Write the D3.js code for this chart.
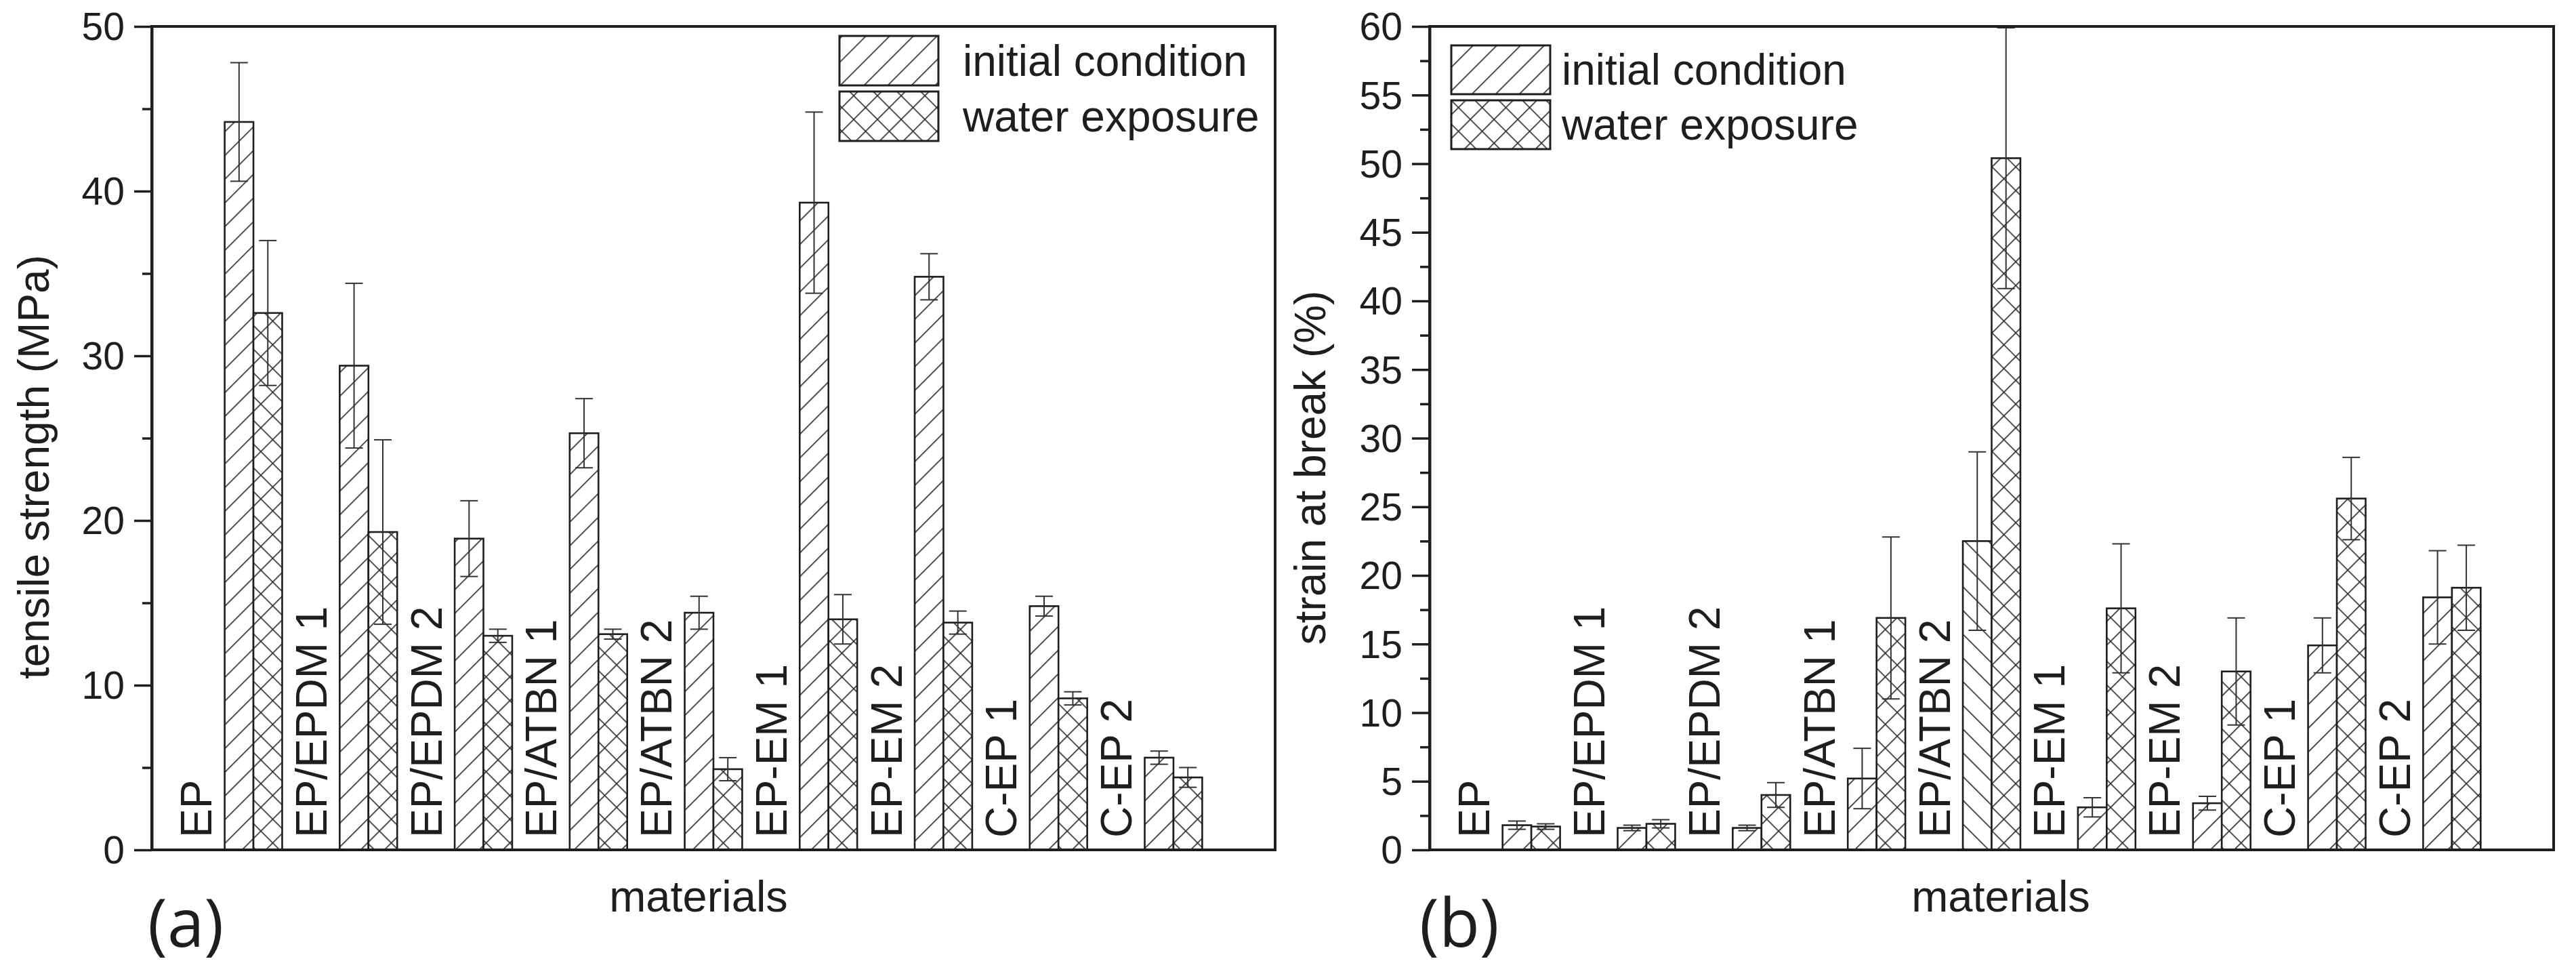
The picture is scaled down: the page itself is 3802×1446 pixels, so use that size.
<!DOCTYPE html>
<html>
<head>
<meta charset="utf-8">
<script src="https://cdn.jsdelivr.net/npm/d3@7"></script>
<style>
  html, body { margin: 0; padding: 0; background: #ffffff; }
  svg { display: block; }
  text { fill: #1e1e1e; }
</style>
</head>
<body>
<div id="chart"></div>
<script>
// ---------------- data ----------------
const categories = ["EP", "EP/EPDM 1", "EP/EPDM 2", "EP/ATBN 1", "EP/ATBN 2", "EP-EM 1", "EP-EM 2", "C-EP 1", "C-EP 2"];
const seriesNames = ["initial condition", "water exposure"];

const tensileInitial    = [44.2, 29.4, 18.9, 25.3, 14.4, 39.3, 34.8, 14.8, 5.6];
const tensileInitialErr = [3.6, 5.0, 2.3, 2.1, 1.0, 5.5, 1.4, 0.6, 0.4];
const tensileWater      = [32.6, 19.3, 13.0, 13.1, 4.9, 14.0, 13.8, 9.2, 4.4];
const tensileWaterErr   = [4.4, 5.6, 0.4, 0.3, 0.7, 1.5, 0.7, 0.4, 0.6];

const strainInitial     = [1.8, 1.6, 1.6, 5.2, 22.5, 3.1, 3.4, 14.9, 18.4];
const strainInitialErr  = [0.3, 0.2, 0.2, 2.2, 6.5, 0.7, 0.5, 2.0, 3.4];
const strainWater       = [1.7, 1.9, 4.0, 16.9, 50.4, 17.6, 13.0, 25.6, 19.1];
const strainWaterErr    = [0.2, 0.3, 0.9, 5.9, 9.5, 4.7, 3.9, 3.0, 3.1];
// bars drawn with the reversed ("\") hatch in panel (b)
const strainReversedHatch = ["EP/ATBN 2"];

const tensileMajorTicks = [0, 10, 20, 30, 40, 50];
const tensileMinorTicks = [5, 15, 25, 35, 45];
const strainMajorTicks  = [0, 5, 10, 15, 20, 25, 30, 35, 40, 45, 50, 55, 60];
const strainMinorTicks  = [2.5, 7.5, 12.5, 17.5, 22.5, 27.5, 32.5, 37.5, 42.5, 47.5, 52.5, 57.5];

const yTitles = ["tensile strength (MPa)", "strain at break (%)"];
const xTitle = "materials";
const panelTags = ["(a)", "(b)"];

// ---------------- layout ----------------
const W = 3802, H = 1446;
const FONT = "'Liberation Sans', Arial, Helvetica, sans-serif";
const INK = "#1e1e1e";

const svg = d3.select("#chart").append("svg")
  .attr("width", W).attr("height", H)
  .attr("viewBox", `0 0 ${W} ${H}`);
svg.append("rect").attr("width", W).attr("height", H).attr("fill", "#fff");

// hatch patterns
const defs = svg.append("defs");
const sp = 24.75;
function hatch(id, angle, cross) {
  const p = defs.append("pattern")
    .attr("id", id).attr("patternUnits", "userSpaceOnUse")
    .attr("width", sp).attr("height", sp)
    .attr("patternTransform", `rotate(${angle})`);
  p.append("rect").attr("width", sp).attr("height", sp).attr("fill", "#fff");
  p.append("line").attr("x1", 0).attr("y1", -2).attr("x2", 0).attr("y2", sp + 2)
    .attr("stroke", "#2a2a2a").attr("stroke-width", 3.2);
  if (cross) {
    p.append("line").attr("x1", -2).attr("y1", 0).attr("x2", sp + 2).attr("y2", 0)
      .attr("stroke", "#2a2a2a").attr("stroke-width", 3.2);
  }
}
hatch("fwd", 45, false);
hatch("back", -45, false);
hatch("cross", 45, true);

const plotTop = 39, plotBottom = 1254;

const panels = [
  {
    x0: 224, x1: 1882, max: 50,
    init: tensileInitial, initErr: tensileInitialErr,
    water: tensileWater, waterErr: tensileWaterErr,
    major: tensileMajorTicks, minor: tensileMinorTicks,
    title: yTitles[0], titleX: 72, titleY: 689,
    xTitleX: 1031, tag: panelTags[0], tagX: 218,
    legend: { x: 1239, y: 53, w: 146, h: 73, gap: 9, textX: 1421 },
    reversed: []
  },
  {
    x0: 2110, x1: 3769, max: 60,
    init: strainInitial, initErr: strainInitialErr,
    water: strainWater, waterErr: strainWaterErr,
    major: strainMajorTicks, minor: strainMinorTicks,
    title: yTitles[1], titleX: 1956, titleY: 690,
    xTitleX: 2953, tag: panelTags[1], tagX: 2095,
    legend: { x: 2142, y: 67, w: 146, h: 72, gap: 9, textX: 2305 },
    reversed: strainReversedHatch
  }
];

panels.forEach(P => {
  const g = svg.append("g");
  const x = d3.scaleBand().domain(categories)
    .range([P.x0, P.x1]).paddingInner(0).paddingOuter(0.384);
  const step = x.step();
  const center = c => x(c) + x.bandwidth() / 2;
  const bw = step * 0.25;
  const y = d3.scaleLinear().domain([0, P.max]).range([plotBottom, plotTop]);

  const rows = categories.map((c, i) => ({
    c, i,
    init: P.init[i], initErr: P.initErr[i],
    water: P.water[i], waterErr: P.waterErr[i]
  }));

  // bars
  const barG = g.append("g");
  barG.selectAll("rect.init").data(rows).join("rect")
    .attr("class", "init")
    .attr("x", d => center(d.c) - bw).attr("width", bw)
    .attr("y", d => y(d.init)).attr("height", d => y(0) - y(d.init))
    .attr("fill", d => P.reversed.includes(d.c) ? "url(#back)" : "url(#fwd)")
    .attr("stroke", INK).attr("stroke-width", 2.6);
  barG.selectAll("rect.water").data(rows).join("rect")
    .attr("class", "water")
    .attr("x", d => center(d.c)).attr("width", bw)
    .attr("y", d => y(d.water)).attr("height", d => y(0) - y(d.water))
    .attr("fill", "url(#cross)")
    .attr("stroke", INK).attr("stroke-width", 2.6);

  // error bars
  const errs = [];
  rows.forEach(d => {
    errs.push({ cx: center(d.c) - bw / 2, v: d.init, e: d.initErr });
    errs.push({ cx: center(d.c) + bw / 2, v: d.water, e: d.waterErr });
  });
  const clampV = v => Math.max(0, Math.min(P.max, v));
  const eg = g.append("g").attr("stroke", "#333").attr("stroke-width", 2).attr("fill", "none");
  const cap = 13;
  eg.selectAll("line.stem").data(errs).join("line").attr("class", "stem")
    .attr("x1", d => d.cx).attr("x2", d => d.cx)
    .attr("y1", d => y(clampV(d.v - d.e))).attr("y2", d => y(clampV(d.v + d.e)));
  eg.selectAll("line.capTop").data(errs).join("line").attr("class", "capTop")
    .attr("x1", d => d.cx - cap).attr("x2", d => d.cx + cap)
    .attr("y1", d => y(clampV(d.v + d.e))).attr("y2", d => y(clampV(d.v + d.e)));
  eg.selectAll("line.capBot").data(errs).join("line").attr("class", "capBot")
    .attr("x1", d => d.cx - cap).attr("x2", d => d.cx + cap)
    .attr("y1", d => y(clampV(d.v - d.e))).attr("y2", d => y(clampV(d.v - d.e)));

  // category labels (rotated, inside plot)
  g.selectAll("text.cat").data(rows).join("text")
    .attr("class", "cat")
    .attr("transform", d => `translate(${center(d.c) - step / 2 + 23},${plotBottom - 18}) rotate(-90)`)
    .attr("text-anchor", "start")
    .attr("font-family", FONT).attr("font-size", 64)
    .text(d => d.c);

  // frame
  g.append("rect")
    .attr("x", P.x0).attr("y", plotTop)
    .attr("width", P.x1 - P.x0).attr("height", plotBottom - plotTop)
    .attr("fill", "none").attr("stroke", INK).attr("stroke-width", 4);

  // y axis (major with labels, minor without)
  const axMajor = g.append("g").attr("transform", `translate(${P.x0},0)`)
    .call(d3.axisLeft(y).tickValues(P.major).tickSize(26).tickSizeOuter(0).tickPadding(14).tickFormat(d3.format("d")));
  axMajor.select(".domain").attr("stroke", INK).attr("stroke-width", 4);
  axMajor.selectAll(".tick line").attr("stroke", INK).attr("stroke-width", 3.5);
  axMajor.selectAll(".tick text").attr("font-family", FONT).attr("font-size", 57)
    .attr("fill", INK).attr("dy", "0.35em");
  const axMinor = g.append("g").attr("transform", `translate(${P.x0},0)`)
    .call(d3.axisLeft(y).tickValues(P.minor).tickSize(14).tickSizeOuter(0).tickFormat(""));
  axMinor.select(".domain").remove();
  axMinor.selectAll(".tick line").attr("stroke", INK).attr("stroke-width", 3.5);

  // y title
  g.append("text")
    .attr("transform", `translate(${P.titleX},${P.titleY}) rotate(-90)`)
    .attr("text-anchor", "middle")
    .attr("font-family", FONT).attr("font-size", 64)
    .text(P.title);

  // x title
  g.append("text")
    .attr("x", P.xTitleX).attr("y", 1345)
    .attr("text-anchor", "middle")
    .attr("font-family", FONT).attr("font-size", 65)
    .text(xTitle);

  // panel tag
  g.append("text")
    .attr("x", P.tagX).attr("y", 1397)
    .attr("font-family", "'Open Sans', 'Noto Sans', sans-serif").attr("font-size", 98)
    .text(P.tag);

  // legend
  const L = P.legend;
  const lg = g.append("g");
  const fills = ["url(#fwd)", "url(#cross)"];
  seriesNames.forEach((name, k) => {
    const by = L.y + k * (L.h + L.gap);
    lg.append("rect")
      .attr("x", L.x).attr("y", by).attr("width", L.w).attr("height", L.h)
      .attr("fill", fills[k]).attr("stroke", INK).attr("stroke-width", 3);
    lg.append("text")
      .attr("x", L.textX).attr("y", by + L.h / 2 + 22)
      .attr("font-family", FONT).attr("font-size", 64)
      .text(name);
  });
});
</script>
</body>
</html>
